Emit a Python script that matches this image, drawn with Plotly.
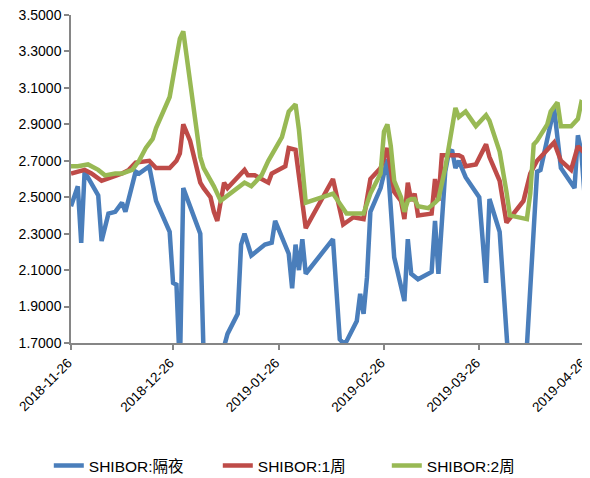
import plotly.graph_objects as go

# SHIBOR overnight (隔夜)
on_dates = [
    "2018-11-26", "2018-11-28", "2018-11-29", "2018-11-30", "2018-12-04", "2018-12-05",
    "2018-12-07", "2018-12-09", "2018-12-11", "2018-12-12", "2018-12-15", "2018-12-16",
    "2018-12-19", "2018-12-21", "2018-12-25", "2018-12-26", "2018-12-27", "2018-12-28",
    "2018-12-29", "2019-01-03", "2019-01-04", "2019-01-07", "2019-01-09", "2019-01-10",
    "2019-01-11", "2019-01-14", "2019-01-15", "2019-01-16", "2019-01-18", "2019-01-22",
    "2019-01-24", "2019-01-25", "2019-01-29", "2019-01-30", "2019-01-31", "2019-02-01",
    "2019-02-02", "2019-02-03", "2019-02-11", "2019-02-12", "2019-02-13", "2019-02-14",
    "2019-02-15", "2019-02-18", "2019-02-19", "2019-02-20", "2019-02-21", "2019-02-22",
    "2019-02-25", "2019-02-27", "2019-03-01", "2019-03-04", "2019-03-05", "2019-03-06",
    "2019-03-08", "2019-03-12", "2019-03-13", "2019-03-14", "2019-03-15", "2019-03-16",
    "2019-03-17", "2019-03-18", "2019-03-19", "2019-03-20", "2019-03-22", "2019-03-26",
    "2019-03-28", "2019-03-29", "2019-04-01", "2019-04-02", "2019-04-03", "2019-04-04",
    "2019-04-08", "2019-04-09", "2019-04-12", "2019-04-13", "2019-04-17", "2019-04-19",
    "2019-04-23", "2019-04-24", "2019-04-25", "2019-04-26",
]
on_values = [
    2.45, 2.56, 2.25, 2.64, 2.51, 2.26,
    2.41, 2.42, 2.47, 2.42, 2.64, 2.63,
    2.67, 2.48, 2.31, 2.03, 2.02, 1.55,
    2.55, 2.30, 1.62, 1.20, 1.40, 1.68,
    1.75, 1.86, 2.24, 2.30, 2.18, 2.24,
    2.25, 2.37, 2.19, 2.00, 2.24, 2.10,
    2.27, 2.08, 2.27, 2.02, 1.72, 1.70,
    1.71, 1.82, 1.97, 1.86, 2.06, 2.42,
    2.55, 2.71, 2.17, 1.93, 2.27, 2.08,
    2.05, 2.09, 2.37, 2.08, 2.38, 2.64,
    2.74, 2.76, 2.66, 2.70, 2.61, 2.50,
    2.03, 2.49, 2.31, 2.02, 1.76, 1.48,
    1.45, 1.68, 2.64, 2.65, 2.99, 2.66,
    2.55, 2.84, 2.75, 2.50,
]

# SHIBOR 1 week (1周)
w1_dates = [
    "2018-11-26", "2018-11-30", "2018-12-02", "2018-12-05", "2018-12-08", "2018-12-11",
    "2018-12-13", "2018-12-15", "2018-12-19", "2018-12-21", "2018-12-25", "2018-12-27",
    "2018-12-28", "2018-12-29", "2018-12-31", "2019-01-03", "2019-01-04", "2019-01-06",
    "2019-01-07", "2019-01-08", "2019-01-10", "2019-01-11", "2019-01-16", "2019-01-17",
    "2019-01-19", "2019-01-21", "2019-01-23", "2019-01-24", "2019-01-28", "2019-01-29",
    "2019-01-31", "2019-02-03", "2019-02-11", "2019-02-14", "2019-02-17", "2019-02-20",
    "2019-02-22", "2019-02-25", "2019-02-27", "2019-03-01", "2019-03-03", "2019-03-04",
    "2019-03-05", "2019-03-06", "2019-03-07", "2019-03-08", "2019-03-12", "2019-03-13",
    "2019-03-14", "2019-03-15", "2019-03-18", "2019-03-20", "2019-03-21", "2019-03-22",
    "2019-03-25", "2019-03-28", "2019-03-29", "2019-04-01", "2019-04-03", "2019-04-05",
    "2019-04-08", "2019-04-10", "2019-04-12", "2019-04-17", "2019-04-19", "2019-04-22",
    "2019-04-24", "2019-04-26",
]
w1_values = [
    2.63, 2.65, 2.63, 2.59, 2.61, 2.63,
    2.65, 2.69, 2.70, 2.66, 2.66, 2.70,
    2.74, 2.90, 2.81, 2.58, 2.55, 2.50,
    2.42, 2.37, 2.58, 2.55, 2.65, 2.62,
    2.62, 2.60, 2.58, 2.63, 2.67, 2.77,
    2.76, 2.33, 2.60, 2.35, 2.39, 2.38,
    2.60, 2.66, 2.77, 2.53, 2.48, 2.38,
    2.58, 2.48, 2.52, 2.40, 2.41, 2.60,
    2.48, 2.73, 2.73, 2.73, 2.72, 2.67,
    2.68, 2.79, 2.72, 2.59, 2.36, 2.41,
    2.48, 2.63, 2.70, 2.80, 2.70, 2.65,
    2.78, 2.74,
]

# SHIBOR 2 weeks (2周)
w2_dates = [
    "2018-11-26", "2018-11-28", "2018-12-01", "2018-12-04", "2018-12-06", "2018-12-09",
    "2018-12-11", "2018-12-14", "2018-12-16", "2018-12-18", "2018-12-20", "2018-12-21",
    "2018-12-25", "2018-12-28", "2018-12-29", "2019-01-03", "2019-01-04", "2019-01-07",
    "2019-01-09", "2019-01-11", "2019-01-14", "2019-01-16", "2019-01-18", "2019-01-21",
    "2019-01-23", "2019-01-24", "2019-01-27", "2019-01-29", "2019-01-31", "2019-02-01",
    "2019-02-03", "2019-02-11", "2019-02-13", "2019-02-15", "2019-02-20", "2019-02-22",
    "2019-02-25", "2019-02-26", "2019-02-27", "2019-02-28", "2019-03-01", "2019-03-03",
    "2019-03-04", "2019-03-05", "2019-03-06", "2019-03-07", "2019-03-08", "2019-03-11",
    "2019-03-13", "2019-03-14", "2019-03-16", "2019-03-17", "2019-03-19", "2019-03-20",
    "2019-03-22", "2019-03-25", "2019-03-28", "2019-03-29", "2019-04-01", "2019-04-03",
    "2019-04-04", "2019-04-09", "2019-04-10", "2019-04-11", "2019-04-12", "2019-04-15",
    "2019-04-16", "2019-04-18", "2019-04-19", "2019-04-22", "2019-04-23", "2019-04-24",
    "2019-04-25", "2019-04-26",
]
w2_values = [
    2.67, 2.67, 2.68, 2.65, 2.62, 2.63,
    2.63, 2.65, 2.70, 2.77, 2.82, 2.88,
    3.05, 3.37, 3.41, 2.72, 2.66, 2.56,
    2.48, 2.51, 2.55, 2.58, 2.56, 2.62,
    2.70, 2.73, 2.83, 2.97, 3.01, 2.87,
    2.47, 2.52, 2.46, 2.41, 2.41, 2.52,
    2.63, 2.86, 2.90, 2.78, 2.59, 2.50,
    2.42, 2.48, 2.49, 2.49, 2.45, 2.44,
    2.47, 2.49, 2.66, 2.78, 2.99, 2.94,
    2.97, 2.89, 2.95, 2.92, 2.75, 2.53,
    2.40, 2.38, 2.52, 2.79, 2.81, 2.90,
    2.97, 3.02, 2.89, 2.89, 2.91, 2.93,
    3.02, 3.01,
]

x_ticks = ["2018-11-26", "2018-12-26", "2019-01-26", "2019-02-26", "2019-03-26", "2019-04-26"]
y_ticks = [1.7, 1.9, 2.1, 2.3, 2.5, 2.7, 2.9, 3.1, 3.3, 3.5]

fig = go.Figure()
fig.add_trace(go.Scatter(x=on_dates, y=on_values, mode="lines", name="SHIBOR:隔夜",
                         line=dict(color="#4A7EBB", width=4.5)))
fig.add_trace(go.Scatter(x=w1_dates, y=w1_values, mode="lines", name="SHIBOR:1周",
                         line=dict(color="#BE4B48", width=4.5)))
fig.add_trace(go.Scatter(x=w2_dates, y=w2_values, mode="lines", name="SHIBOR:2周",
                         line=dict(color="#98B954", width=4.5)))

axis_font = dict(family="Liberation Sans, Noto Sans CJK SC", size=14, color="#000000")
x_font = dict(family="Liberation Sans, Noto Sans CJK SC", size=13.5, color="#000000")

# the page body adds an 8px offset, so the figure is 8px smaller than the window
fig.update_layout(
    width=582, height=470,
    margin=dict(l=63, r=5, t=7, b=135, autoexpand=False),
    paper_bgcolor="white", plot_bgcolor="white",
    font=axis_font,
    showlegend=True,
    legend=dict(orientation="h", x=0.45, xanchor="center", y=-0.375, yanchor="middle",
                font=dict(family="Liberation Sans, Noto Sans CJK SC", size=15.5, color="#000000"),
                entrywidth=124, entrywidthmode="pixels", tracegroupgap=0),
    xaxis=dict(
        type="date", range=["2018-11-26", "2019-04-26 02:00"], automargin=False,
        tickvals=x_ticks, ticktext=x_ticks, tickangle=-45, ticklabeloverflow="allow",
        ticklabelshift=-3,
        showgrid=False, zeroline=False,
        showline=True, linecolor="#868686", linewidth=1.5,
        ticks="outside", ticklen=5, tickcolor="#868686", tickwidth=1.5,
        tickfont=x_font,
    ),
    yaxis=dict(
        range=[1.7, 3.5], tickvals=y_ticks, tickformat=".4f", automargin=False,
        ticklabeloverflow="allow",
        showgrid=False, zeroline=False,
        showline=True, linecolor="#868686", linewidth=1.5,
        ticks="outside", ticklen=5, tickcolor="#868686", tickwidth=1.5,
        tickfont=axis_font,
    ),
)

fig.write_html("out.html")
